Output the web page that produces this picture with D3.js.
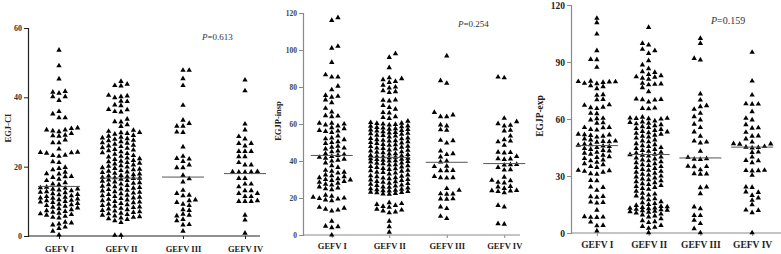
<!DOCTYPE html>
<html><head><meta charset="utf-8">
<script src="https://cdn.jsdelivr.net/npm/d3@7"></script>
<style>body{margin:0;background:#fff}svg{display:block}</style>
</head><body>
<svg id="c" width="781" height="254"></svg>
<script>
const categories = ["GEFV I", "GEFV II", "GEFV III", "GEFV IV"];

// Panel 1: EGJ-CI
const ciGefv1 = [53.6, 49.1, 45.3, 41.7, 41.5, 41.2, 40.2, 40.2, 39.1, 35.9, 35.2, 34.1, 34.1, 31.2, 31.0, 30.6, 30.6, 30.3, 30.1, 29.6, 29.1, 28.9, 28.8, 27.7, 26.9, 26.9, 25.1, 24.2, 24.1, 24.0, 23.9, 23.3, 23.2, 23.0, 21.4, 21.2, 19.8, 19.5, 19.1, 18.4, 18.0, 17.9, 17.2, 17.1, 16.9, 16.4, 16.0, 15.4, 15.0, 14.8, 14.1, 13.9, 13.8, 13.6, 13.5, 13.3, 13.1, 12.8, 12.6, 12.5, 12.2, 12.0, 11.9, 11.6, 11.4, 11.2, 11.0, 10.9, 10.7, 10.5, 10.3, 10.2, 10.0, 9.8, 9.7, 9.4, 9.2, 9.0, 8.8, 8.6, 8.3, 8.1, 7.9, 7.6, 7.3, 7.1, 6.9, 6.6, 6.4, 6.2, 6.0, 5.7, 5.4, 5.2, 4.0, 3.8, 3.5, 3.2, 2.6, 2.2, 1.4, 0.3];
const ciGefv2 = [44.6, 43.8, 43.4, 43.3, 40.6, 40.4, 40.2, 39.9, 38.9, 38.8, 37.8, 37.6, 36.5, 36.4, 35.9, 35.8, 33.7, 33.0, 32.9, 32.1, 31.6, 30.5, 30.2, 29.9, 29.8, 29.6, 29.4, 29.0, 28.8, 28.5, 28.3, 28.1, 27.9, 27.6, 27.5, 27.2, 26.9, 26.8, 26.5, 26.2, 26.0, 25.8, 25.5, 25.3, 25.0, 24.8, 24.6, 24.3, 24.0, 23.8, 23.6, 23.2, 23.0, 22.8, 22.5, 22.3, 22.1, 21.8, 21.6, 21.4, 21.2, 21.0, 20.8, 20.5, 20.3, 20.1, 19.9, 19.7, 19.5, 19.3, 19.1, 18.9, 18.7, 18.5, 18.3, 18.1, 17.9, 17.7, 17.5, 17.3, 17.1, 16.9, 16.8, 16.7, 16.6, 16.4, 16.2, 16.0, 15.8, 15.6, 15.4, 15.2, 15.0, 14.8, 14.6, 14.4, 14.2, 14.0, 13.8, 13.6, 13.4, 13.2, 13.0, 12.8, 12.6, 12.4, 12.2, 12.0, 11.8, 11.6, 11.4, 11.2, 11.0, 10.8, 10.6, 10.4, 10.2, 10.0, 9.8, 9.6, 9.4, 9.2, 9.0, 8.8, 8.6, 8.4, 8.2, 8.0, 7.8, 7.6, 7.4, 7.2, 7.0, 6.8, 6.6, 6.4, 6.2, 6.0, 5.8, 5.6, 5.4, 5.2, 5.0, 4.8, 4.4, 3.9, 0.2, 0.2];
const ciGefv3 = [47.8, 47.8, 45.4, 43.4, 37.7, 33.4, 32.5, 31.7, 31.7, 30.0, 29.9, 25.7, 23.0, 22.4, 22.2, 21.5, 20.5, 19.7, 19.7, 17.5, 16.5, 15.6, 13.2, 12.3, 11.8, 11.6, 10.4, 10.2, 9.7, 9.2, 8.8, 7.6, 7.4, 6.3, 6.0, 5.8, 4.8, 4.4, 3.3, 3.2, 1.4];
const ciGefv4 = [45.0, 41.9, 32.3, 30.6, 28.7, 28.0, 26.7, 26.7, 26.0, 24.4, 24.4, 24.4, 22.9, 22.9, 21.2, 20.5, 20.5, 18.6, 18.5, 18.5, 18.4, 18.4, 16.6, 16.6, 15.0, 15.0, 14.2, 13.1, 13.1, 12.3, 12.3, 11.4, 11.4, 10.2, 10.0, 10.0, 10.0, 6.0, 4.6, 0.8];
const ciMedians = [14.3, 16.7, 17.0, 18.0];
const ciTicks = [0, 20, 40, 60];

// Panel 2: EGJP-insp
const inspGefv1 = [117.5, 116.0, 102.0, 101.0, 93.3, 86.6, 85.4, 85.4, 80.5, 78.5, 75.5, 75.0, 74.5, 73.0, 71.5, 68.5, 66.5, 64.5, 64.3, 64.0, 60.5, 60.5, 60.0, 59.5, 59.0, 58.0, 57.5, 56.5, 56.2, 56.0, 55.5, 53.5, 52.5, 52.0, 51.5, 50.5, 50.0, 49.5, 48.0, 47.5, 47.0, 46.5, 45.5, 45.0, 44.0, 43.5, 43.0, 42.5, 42.0, 41.5, 41.0, 40.5, 40.0, 39.0, 37.5, 36.5, 35.0, 34.5, 34.0, 33.5, 32.5, 32.0, 31.5, 31.0, 30.5, 30.0, 29.8, 29.5, 29.0, 28.5, 28.0, 27.5, 27.0, 26.0, 25.5, 25.0, 24.5, 21.5, 21.0, 20.5, 20.0, 19.8, 19.5, 19.0, 18.5, 15.0, 14.5, 14.0, 13.5, 13.0, 7.5, 4.8, 4.5, 4.0, 0.0];
const inspGefv2 = [98.0, 96.0, 90.5, 85.0, 84.5, 84.0, 83.0, 82.5, 81.0, 80.0, 79.5, 78.0, 77.5, 77.0, 73.0, 72.8, 72.5, 70.0, 69.0, 68.0, 66.2, 66.0, 64.0, 63.5, 63.0, 61.5, 60.8, 60.5, 60.3, 60.0, 59.8, 59.5, 59.0, 58.8, 58.5, 58.2, 57.8, 57.5, 57.2, 57.0, 56.8, 56.5, 56.2, 55.8, 55.5, 55.2, 55.0, 54.8, 54.5, 54.0, 53.8, 53.5, 53.0, 52.5, 52.2, 52.0, 51.5, 51.2, 51.0, 50.8, 50.5, 50.0, 49.8, 49.5, 49.0, 48.8, 48.5, 48.0, 47.8, 47.5, 47.0, 46.8, 46.5, 46.0, 45.8, 45.5, 45.0, 44.8, 44.5, 44.0, 43.8, 43.5, 43.0, 42.8, 42.5, 42.3, 42.0, 41.8, 41.5, 41.3, 41.0, 40.8, 40.5, 40.2, 40.0, 39.8, 39.5, 39.0, 38.8, 38.5, 38.0, 37.8, 37.5, 37.0, 36.8, 36.5, 36.0, 35.8, 35.5, 35.0, 34.8, 34.5, 34.0, 33.8, 33.5, 33.0, 32.5, 32.0, 31.8, 31.5, 31.0, 30.8, 30.5, 30.0, 29.8, 29.5, 29.0, 28.8, 28.5, 28.0, 27.8, 27.5, 27.0, 26.8, 26.5, 26.0, 25.8, 25.5, 25.0, 24.8, 24.5, 24.2, 24.0, 23.8, 23.5, 23.2, 23.0, 22.8, 22.5, 22.2, 22.0, 17.5, 17.0, 16.5, 16.0, 15.5, 15.0, 14.0, 13.5, 13.0, 12.5, 12.0, 7.5, 4.5, 1.5];
const inspGefv3 = [96.8, 83.4, 82.0, 66.3, 64.9, 64.0, 64.0, 59.5, 59.0, 56.9, 56.6, 51.2, 51.0, 49.7, 45.4, 44.0, 43.5, 42.2, 40.0, 39.5, 37.2, 37.0, 34.9, 34.8, 34.7, 31.7, 31.0, 31.0, 30.8, 25.1, 24.2, 22.3, 22.2, 22.1, 19.6, 19.5, 19.4, 15.2, 14.3, 10.1, 8.9];
const inspGefv4 = [85.4, 85.0, 63.1, 61.3, 60.2, 59.3, 59.0, 56.6, 56.3, 53.5, 51.5, 50.8, 50.4, 48.5, 44.8, 44.6, 44.4, 42.5, 41.3, 41.1, 40.9, 38.2, 38.0, 37.8, 36.5, 35.3, 35.1, 31.3, 29.6, 29.4, 28.5, 28.2, 26.3, 26.0, 25.2, 24.1, 24.0, 23.8, 23.5, 22.8, 16.0, 15.2, 6.1, 5.9];
const inspMedians = [43.0, 42.0, 39.3, 38.6];
const inspTicks = [0, 20, 40, 60, 80, 100, 120];

// Panel 3: EGJP-exp
const expGefv1 = [113.0, 110.7, 104.7, 96.0, 91.4, 91.2, 87.2, 79.9, 79.7, 79.6, 79.5, 79.3, 78.8, 78.6, 77.5, 77.0, 76.0, 72.8, 72.5, 70.3, 70.1, 67.5, 67.2, 66.2, 66.0, 65.5, 63.0, 62.8, 60.4, 60.2, 59.5, 58.0, 57.8, 55.6, 55.5, 55.4, 54.5, 54.2, 52.0, 51.8, 51.6, 51.4, 51.0, 50.5, 49.5, 49.0, 48.4, 48.2, 48.0, 47.8, 46.8, 46.5, 46.2, 45.8, 45.5, 45.0, 44.5, 44.0, 43.5, 43.2, 42.5, 42.0, 41.5, 41.0, 40.2, 39.8, 39.2, 38.5, 38.0, 37.2, 36.5, 36.0, 35.0, 34.5, 33.0, 32.8, 32.5, 32.0, 31.2, 31.0, 27.7, 27.5, 24.2, 24.0, 22.5, 19.3, 19.1, 18.8, 16.3, 16.1, 15.8, 12.0, 8.6, 8.4, 8.3, 8.2, 5.8, 4.0, 3.8, 1.1];
const expGefv2 = [108.2, 99.8, 99.0, 96.7, 96.0, 94.5, 90.7, 88.5, 86.5, 84.9, 84.5, 83.5, 82.8, 82.2, 82.0, 81.5, 81.0, 78.8, 78.5, 78.3, 78.0, 76.5, 74.4, 70.5, 70.3, 70.2, 70.0, 69.0, 65.8, 65.6, 65.4, 61.0, 60.5, 60.4, 60.3, 60.2, 60.0, 59.0, 58.5, 58.2, 57.8, 57.5, 57.0, 56.5, 56.0, 55.5, 55.0, 54.5, 54.0, 53.5, 53.2, 52.8, 52.5, 52.0, 51.5, 51.0, 50.5, 50.0, 49.0, 48.5, 48.0, 47.0, 46.5, 46.0, 45.5, 45.0, 44.5, 44.0, 43.5, 43.0, 42.5, 42.0, 41.5, 41.2, 41.0, 40.5, 40.0, 39.5, 39.0, 38.5, 38.0, 37.5, 37.0, 36.5, 36.0, 35.5, 35.0, 34.5, 34.0, 33.5, 33.0, 32.5, 32.0, 31.5, 31.0, 30.5, 30.0, 29.5, 29.0, 28.5, 28.0, 27.5, 27.0, 26.5, 26.0, 25.5, 25.0, 24.5, 24.0, 23.5, 23.0, 22.0, 21.0, 20.5, 20.0, 19.5, 18.5, 18.0, 17.5, 16.5, 16.0, 15.5, 15.0, 14.5, 14.0, 13.8, 13.5, 13.2, 13.0, 12.8, 12.5, 12.2, 12.0, 11.8, 11.5, 11.2, 11.0, 10.5, 10.0, 9.5, 9.0, 8.5, 7.5, 6.5, 6.0, 5.5, 4.0, 3.5, 3.0, 2.5, 0.2];
const expGefv3 = [102.4, 99.8, 91.9, 91.1, 73.2, 70.0, 67.0, 66.5, 65.1, 63.0, 61.2, 59.5, 57.3, 55.5, 53.2, 51.0, 48.4, 47.9, 47.4, 43.0, 39.8, 39.1, 38.9, 38.7, 35.1, 35.0, 34.9, 33.3, 31.2, 31.1, 31.0, 24.2, 23.9, 20.7, 13.7, 12.8, 9.3, 9.2, 6.7, 5.0, 2.3, 0.1];
const expGefv4 = [95.1, 80.0, 72.6, 68.0, 67.9, 67.8, 63.9, 60.4, 59.5, 57.0, 55.4, 55.2, 53.0, 51.1, 51.0, 49.5, 47.9, 47.0, 46.9, 46.8, 45.5, 45.2, 45.0, 44.8, 42.6, 42.4, 40.0, 38.2, 38.0, 37.0, 33.0, 32.9, 32.8, 32.7, 30.4, 24.2, 24.0, 21.6, 21.4, 19.8, 18.5, 17.2, 14.9, 12.1, 11.9, 10.7, 0.1];
const expMedians = [46.0, 41.3, 39.5, 45.2];
const expTicks = [0, 30, 60, 90, 120];

const yLabels = ["EGJ-CI", "EGJP-insp", "EGJP-exp"];
const pValues = ["0.613", "0.254", "0.159"];

const panels = [
  {groups:[ciGefv1,ciGefv2,ciGefv3,ciGefv4], medians:ciMedians, ticks:ciTicks, yMax:60,
   ax:28, yTop:28, yBot:236, xEnd:260, rangeEnd:276, axisColor:"#222", tickColor:"#333",
   tickFs:8, catFs:8.5, catPad:7, labX:9, labY:128, labFs:8.5, px:202, py:40, pFs:9},
  {groups:[inspGefv1,inspGefv2,inspGefv3,inspGefv4], medians:inspMedians, ticks:inspTicks, yMax:120,
   ax:303, yTop:13, yBot:235, xEnd:520, rangeEnd:533, axisColor:"#8a8a8a", tickColor:"#444",
   tickFs:7.5, catFs:8.5, catPad:5, labX:279, labY:121, labFs:8.5, px:458, py:27, pFs:9},
  {groups:[expGefv1,expGefv2,expGefv3,expGefv4], medians:expMedians, ticks:expTicks, yMax:120,
   ax:571, yTop:5, yBot:233, xEnd:781, rangeEnd:778, axisColor:"#8a8a8a", tickColor:"#222",
   tickFs:9.5, catFs:9.5, catPad:5, labX:541, labY:116, labFs:9.5, px:711, py:24, pFs:10}
];

const svg = d3.select("#c");
const serif = "'Liberation Serif','Times New Roman',serif";
const tri = d3.symbol(d3.symbolTriangle, 12.5);

function swarm(values, cx, y, step, gap, maxCol) {
  const pts = values.map(v => ({v, y: y(v)})).sort((a, b) => b.y - a.y);
  const last = new Map();
  let flip = 1;
  pts.forEach(p => {
    let chosen = null;
    for (let k = 0; k <= maxCol && chosen === null; k++) {
      const cands = k === 0 ? [0] : [k * flip, -k * flip];
      for (const c of cands) {
        const ly = last.get(c);
        if (ly === undefined || Math.abs(ly - p.y) >= gap) { chosen = c; break; }
      }
    }
    if (chosen === null) {
      let best = -1;
      for (let c = -maxCol; c <= maxCol; c++) {
        const d = Math.abs(last.get(c) - p.y);
        if (d > best) { best = d; chosen = c; }
      }
    }
    p.col = chosen; last.set(chosen, p.y);
    flip = -flip;
    p.x = cx + p.col * step;
  });
  return pts;
}

panels.forEach((P, pi) => {
  const g = svg.append("g");
  const x = d3.scalePoint().domain(categories).range([P.ax, P.rangeEnd]).padding(0.5);
  const y = d3.scaleLinear().domain([0, P.yMax]).range([P.yBot, P.yTop]);

  const ya = g.append("g").attr("transform", `translate(${P.ax},0)`)
    .call(d3.axisLeft(y).tickValues(P.ticks).tickSize(4).tickPadding(2).tickFormat(d3.format("d")));
  ya.select(".domain").attr("stroke", P.axisColor).attr("stroke-width", 1.2);
  ya.selectAll(".tick line").attr("stroke", P.axisColor);
  ya.selectAll(".tick text").attr("fill", P.tickColor).attr("font-family", serif)
    .attr("font-weight", "bold").attr("font-size", P.tickFs);

  const xa = g.append("g").attr("transform", `translate(0,${P.yBot})`)
    .call(d3.axisBottom(x).tickSize(3).tickPadding(P.catPad));
  xa.select(".domain").remove();
  xa.selectAll(".tick line").attr("stroke", P.axisColor);
  xa.selectAll(".tick text").attr("fill", "#222").attr("font-family", serif)
    .attr("font-weight", "bold").attr("font-size", P.catFs);
  g.append("line").attr("x1", P.ax).attr("x2", P.xEnd).attr("y1", P.yBot).attr("y2", P.yBot)
    .attr("stroke", P.axisColor).attr("stroke-width", 1.2);

  g.append("text").attr("transform", `translate(${P.labX},${P.labY}) rotate(-90)`)
    .attr("text-anchor", "middle").attr("dominant-baseline", "middle")
    .attr("font-family", serif).attr("font-weight", "bold").attr("font-size", P.labFs)
    .attr("fill", "#222").text(yLabels[pi]);

  const pt = g.append("text").attr("x", P.px).attr("y", P.py).attr("font-family", serif)
    .attr("font-size", P.pFs).attr("fill", "#333");
  pt.append("tspan").attr("font-style", "italic").text("P");
  pt.append("tspan").text("=" + pValues[pi]);

  P.groups.forEach((vals, gi) => {
    const cx = x(categories[gi]);
    const pts = swarm(vals, cx, y, 6.2, 4.3, 3);
    g.append("g").selectAll("path").data(pts).join("path")
      .attr("d", tri).attr("transform", d => `translate(${d.x},${d.y})`).attr("fill", "#000");
    g.append("line").attr("x1", cx - 21).attr("x2", cx + 21)
      .attr("y1", y(P.medians[gi])).attr("y2", y(P.medians[gi]))
      .attr("stroke", "#555").attr("stroke-width", 1);
  });
});
</script>
</body></html>
